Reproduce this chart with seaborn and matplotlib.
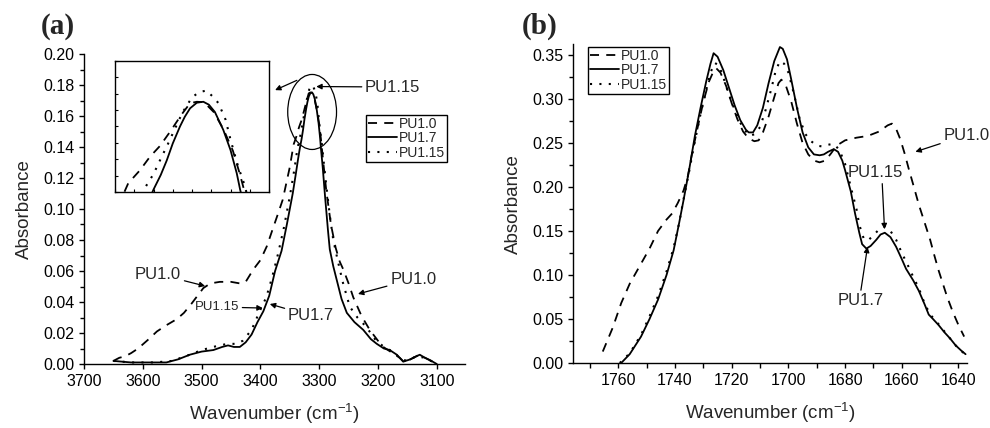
import matplotlib
matplotlib.use("Agg")
import numpy as np
import pandas as pd
import seaborn as sns
import matplotlib.pyplot as plt
from matplotlib.patches import Ellipse
from matplotlib.ticker import MultipleLocator, LinearLocator, NullFormatter

# ---------------- data : panel (a), N-H region ----------------
a_pu10_x = [3650, 3640, 3630, 3620, 3608, 3590, 3576, 3560, 3542, 3530, 3517, 3505, 3497, 3485,
            3469, 3450, 3435, 3425, 3412, 3400, 3389, 3380, 3370, 3362, 3350, 3343.5, 3338.6,
            3334.5, 3330.3, 3326, 3321.3, 3317.8, 3315, 3312, 3308, 3304, 3300, 3297, 3293,
            3288, 3280, 3272, 3265, 3259, 3250, 3242, 3228, 3214, 3200, 3191, 3175, 3163, 3155,
            3145, 3130, 3120, 3105]
a_pu10_y = [0.002, 0.004, 0.005, 0.007, 0.010, 0.016, 0.021, 0.025, 0.029, 0.033, 0.039, 0.045,
            0.049, 0.052, 0.053, 0.053, 0.052, 0.053, 0.061, 0.067, 0.076, 0.086, 0.097, 0.106,
            0.127, 0.1416, 0.147, 0.1525, 0.157, 0.163, 0.170, 0.1746, 0.1752, 0.175, 0.171,
            0.164, 0.155, 0.145, 0.130, 0.112, 0.090, 0.075, 0.066, 0.061, 0.052, 0.043, 0.031,
            0.022, 0.015, 0.011, 0.007, 0.004, 0.001, 0.003, 0.006, 0.004, 0.001]

a_pu17_x = [3650, 3620, 3590, 3560, 3540, 3520, 3500, 3480, 3465, 3455, 3445, 3435, 3425, 3415,
            3405, 3395, 3385, 3375, 3364, 3355, 3345, 3340, 3336, 3333, 3330, 3327.5, 3325, 3322,
            3320, 3317.8, 3315, 3312.3, 3310, 3307.5, 3304, 3301, 3298.4, 3297, 3294, 3290,
            3285, 3282, 3276, 3270, 3262, 3253, 3240, 3225, 3212, 3202, 3190, 3180, 3168, 3157,
            3145, 3129, 3120, 3112, 3100]
a_pu17_y = [0.002, 0.001, 0.001, 0.001, 0.003, 0.006, 0.008, 0.009, 0.011, 0.012, 0.011, 0.011,
            0.014, 0.019, 0.027, 0.034, 0.044, 0.060, 0.073, 0.090, 0.110, 0.122, 0.132, 0.139,
            0.145, 0.151, 0.158, 0.165, 0.169, 0.1725, 0.1748, 0.1752, 0.174, 0.171, 0.1636,
            0.1553, 0.1457, 0.139, 0.127, 0.108, 0.086, 0.074, 0.063, 0.054, 0.042, 0.033, 0.027,
            0.022, 0.016, 0.013, 0.010, 0.009, 0.006, 0.0015, 0.003, 0.006, 0.004, 0.0026, 0.0]

a_pu115_x = [3650, 3620, 3580, 3550, 3520, 3500, 3470, 3455, 3440, 3430, 3415, 3400, 3390, 3380,
             3370, 3360, 3350, 3342, 3337, 3333, 3330, 3327, 3321, 3317, 3314, 3311, 3308, 3306,
             3303, 3301.5, 3299.8, 3297.8, 3295.4, 3290, 3282, 3276, 3268, 3260, 3248, 3235,
             3220, 3205, 3190, 3175, 3160, 3150, 3135, 3120, 3100]
a_pu115_y = [0.002, 0.001, 0.001, 0.002, 0.006, 0.009, 0.012, 0.013, 0.013, 0.015, 0.022, 0.035,
             0.043, 0.056, 0.071, 0.088, 0.108, 0.126, 0.139, 0.1454, 0.1517, 0.1578, 0.1707,
             0.177, 0.1792, 0.1798, 0.177, 0.1746, 0.1677, 0.1615, 0.1553, 0.1484, 0.1416,
             0.122, 0.096, 0.080, 0.066, 0.053, 0.037, 0.030, 0.024, 0.016, 0.011, 0.008, 0.003,
             0.002, 0.005, 0.004, 0.0]

# ---------------- data : panel (b), C=O region ----------------
b_pu10_x = [1765.5, 1762, 1759, 1756, 1752.5, 1749, 1746, 1743, 1741, 1739, 1737, 1735.5, 1734,
            1732, 1730, 1728, 1726.5, 1725.5, 1724, 1722, 1720, 1718, 1716, 1714, 1712, 1710.5,
            1709, 1707, 1705, 1703.5, 1702.5, 1701, 1699, 1697, 1695, 1693, 1691, 1689, 1687,
            1685, 1683, 1680, 1676, 1672, 1668, 1665, 1663.5, 1662, 1660.5, 1659, 1657.5, 1656,
            1654, 1652, 1650, 1648.5, 1647, 1645.5, 1644, 1642, 1640, 1638]
b_pu10_y = [0.013, 0.040, 0.068, 0.090, 0.110, 0.130, 0.150, 0.163, 0.170, 0.182, 0.196, 0.212,
            0.238, 0.268, 0.297, 0.320, 0.331, 0.335, 0.330, 0.315, 0.295, 0.277, 0.263, 0.255,
            0.252, 0.253, 0.262, 0.280, 0.302, 0.318, 0.322, 0.316, 0.297, 0.272, 0.250, 0.237,
            0.230, 0.228, 0.230, 0.238, 0.247, 0.253, 0.256, 0.258, 0.263, 0.270, 0.272, 0.266,
            0.254, 0.238, 0.220, 0.203, 0.180, 0.160, 0.140, 0.122, 0.105, 0.090, 0.075, 0.058,
            0.043, 0.030]

b_pu17_x = [1759, 1756, 1752, 1749, 1746, 1743, 1740.5, 1738.5, 1737, 1735, 1733, 1731, 1729,
            1727.5, 1726.4, 1725, 1723, 1721, 1719, 1717, 1715, 1714, 1712.5, 1711, 1709, 1707,
            1705, 1703, 1702, 1700.5, 1699, 1697, 1695, 1693, 1691, 1689, 1687.5, 1686, 1684,
            1682.5, 1681, 1680, 1678, 1676.5, 1675, 1674, 1672.5, 1671, 1669, 1667.5, 1666, 1664,
            1662, 1660, 1658.5, 1656, 1654, 1652, 1650.5, 1649, 1647, 1645, 1643, 1641, 1639,
            1637.5]
b_pu17_y = [0.0, 0.010, 0.030, 0.050, 0.072, 0.100, 0.128, 0.160, 0.185, 0.220, 0.258, 0.290,
            0.320, 0.340, 0.352, 0.348, 0.333, 0.313, 0.293, 0.276, 0.265, 0.262, 0.262, 0.270,
            0.290, 0.318, 0.343, 0.359, 0.357, 0.345, 0.322, 0.290, 0.262, 0.245, 0.237, 0.236,
            0.237, 0.240, 0.243, 0.240, 0.230, 0.219, 0.195, 0.170, 0.148, 0.135, 0.130, 0.133,
            0.140, 0.146, 0.148, 0.143, 0.132, 0.118, 0.107, 0.094, 0.082, 0.067, 0.055, 0.050,
            0.043, 0.035, 0.028, 0.020, 0.014, 0.010]

b_pu115_x = [1759.5, 1756, 1752, 1749, 1746, 1743, 1740.5, 1738.5, 1737, 1735, 1733, 1731, 1729,
             1727.5, 1726, 1724.5, 1723, 1721, 1719, 1717, 1715, 1713.5, 1712, 1710, 1708, 1706,
             1704.5, 1703, 1701.5, 1700, 1698, 1696, 1694, 1692, 1690, 1688, 1686, 1684, 1682,
             1680, 1678, 1676, 1675, 1673.5, 1672, 1670, 1668, 1666, 1664, 1662, 1660, 1658,
             1656, 1654, 1652, 1650, 1648, 1645, 1642, 1640, 1638]
b_pu115_y = [0.0, 0.011, 0.032, 0.053, 0.076, 0.104, 0.131, 0.160, 0.186, 0.218, 0.252, 0.283,
             0.310, 0.330, 0.341, 0.338, 0.325, 0.305, 0.288, 0.273, 0.263, 0.258, 0.260, 0.268,
             0.288, 0.312, 0.332, 0.343, 0.340, 0.330, 0.305, 0.277, 0.260, 0.252, 0.247, 0.246,
             0.248, 0.249, 0.242, 0.226, 0.200, 0.175, 0.157, 0.142, 0.139, 0.145, 0.152, 0.155,
             0.150, 0.140, 0.125, 0.112, 0.098, 0.085, 0.068, 0.055, 0.048, 0.036, 0.024, 0.016,
             0.011]

labels = ["PU1.0", "PU1.7", "PU1.15"]

# ---------------- styling ----------------
sns.set_style("ticks")
plt.rcParams["font.family"] = ["Liberation Sans", "DejaVu Sans"]
plt.rcParams["mathtext.fontset"] = "custom"
plt.rcParams["mathtext.rm"] = "Liberation Sans"
plt.rcParams["axes.edgecolor"] = "black"
plt.rcParams["axes.linewidth"] = 1.0
for k in ("xtick", "ytick"):
    plt.rcParams[f"{k}.color"] = "black"
    plt.rcParams[f"{k}.direction"] = "out"
    plt.rcParams[f"{k}.major.size"] = 3.6
    plt.rcParams[f"{k}.minor.size"] = 2.6
    plt.rcParams[f"{k}.major.width"] = 1.0
    plt.rcParams[f"{k}.minor.width"] = 1.0
    plt.rcParams[f"{k}.labelsize"] = 11.5

styles = {
    "PU1.0": dict(linestyle=(0, (5, 4)), linewidth=1.3),
    "PU1.7": dict(linestyle="-", linewidth=1.3),
    "PU1.15": dict(linestyle=(0, (1, 3.5)), linewidth=1.5),
}


def frame(xs, ys, name):
    return pd.DataFrame({"w": xs, "a": ys, "s": name})


df_a = {"PU1.0": frame(a_pu10_x, a_pu10_y, "PU1.0"),
        "PU1.7": frame(a_pu17_x, a_pu17_y, "PU1.7"),
        "PU1.15": frame(a_pu115_x, a_pu115_y, "PU1.15")}
df_b = {"PU1.0": frame(b_pu10_x, b_pu10_y, "PU1.0"),
        "PU1.7": frame(b_pu17_x, b_pu17_y, "PU1.7"),
        "PU1.15": frame(b_pu115_x, b_pu115_y, "PU1.15")}


def draw(ax, dfs, legend=True):
    for name in labels:
        sns.lineplot(data=dfs[name], x="w", y="a", ax=ax, color="black", sort=False,
                     estimator=None, label=name if legend else None, **styles[name])


fig = plt.figure(figsize=(9.9, 4.28), dpi=100)
W, H = 990.0, 428.0

ax_a = fig.add_axes([84 / W, (H - 364) / H, (465 - 84) / W, (364 - 54) / H])
ax_b = fig.add_axes([573 / W, (H - 363) / H, (967 - 573) / W, (363 - 44.4) / H])

draw(ax_a, df_a)
draw(ax_b, df_b)

for ax in (ax_a, ax_b):
    sns.despine(ax=ax)
    ax.set_xlabel("Wavenumber (cm$^{\\mathregular{-1}}$)", fontsize=13.5, labelpad=9)
    ax.set_ylabel("Absorbance", fontsize=13.5, labelpad=7)

ax_a.set_xlim(3700, 3052)
ax_a.set_ylim(0, 0.2)
ax_a.xaxis.set_major_locator(MultipleLocator(100))
ax_a.yaxis.set_major_locator(MultipleLocator(0.02))
ax_a.yaxis.set_minor_locator(MultipleLocator(0.01))
ax_a.yaxis.set_major_formatter(matplotlib.ticker.FormatStrFormatter("%.2f"))

ax_b.set_xlim(1776, 1637)
ax_b.set_ylim(0, 0.362)
ax_b.xaxis.set_major_locator(MultipleLocator(20))
ax_b.xaxis.set_minor_locator(MultipleLocator(10))
ax_b.yaxis.set_major_locator(MultipleLocator(0.05))
ax_b.yaxis.set_minor_locator(MultipleLocator(0.025))
ax_b.yaxis.set_major_formatter(matplotlib.ticker.FormatStrFormatter("%.2f"))
ax_b.tick_params(axis="x", which="minor", length=3.6)

# legends
leg_kw = dict(fontsize=10, frameon=True, fancybox=False, shadow=False, borderpad=0.15,
              labelspacing=0.02, handlelength=2.1, handletextpad=0.1, borderaxespad=0.0)
la = ax_a.legend(loc="upper left", bbox_to_anchor=((366 - 84) / 381, (364 - 115) / 310), **leg_kw)
lb = ax_b.legend(loc="upper left", bbox_to_anchor=((588 - 573) / 394, (363 - 47) / 318.6), **leg_kw)
for lg in (la, lb):
    lg.get_frame().set_edgecolor("black")
    lg.get_frame().set_linewidth(1.0)
    lg.get_frame().set_alpha(1)

# inset
ax_in = fig.add_axes([115 / W, (H - 192) / H, 154 / W, 131 / H])
draw(ax_in, df_a, legend=False)
ax_in.set_xlim(3349, 3285)
ax_in.set_ylim(0.138, 0.192)
ax_in.set_xlabel("")
ax_in.set_ylabel("")
ax_in.xaxis.set_major_locator(LinearLocator(9))
ax_in.yaxis.set_major_locator(LinearLocator(9))
ax_in.xaxis.set_major_formatter(NullFormatter())
ax_in.yaxis.set_major_formatter(NullFormatter())
ax_in.tick_params(direction="in", length=2.5, width=0.8, top=False, right=False)
for sp in ax_in.spines.values():
    sp.set_visible(True)
    sp.set_linewidth(1.0)

# ellipse around the peak
ax_a.add_patch(Ellipse((3312, 0.1626), width=83, height=0.0484, fill=False,
                       edgecolor="black", linewidth=0.9))

arrow = dict(arrowstyle="-|>", color="black", lw=0.9, mutation_scale=8, shrinkA=0, shrinkB=0)
# arrow from ellipse to inset
ax_a.annotate("", xy=(3375, 0.1767), xytext=(3338, 0.183), arrowprops=arrow)

# panel (a) annotations
ax_a.annotate("PU1.15", xy=(3305, 0.179), xytext=(3222, 0.1787), fontsize=12,
              ha="left", va="center", arrowprops=arrow)
ax_a.annotate("PU1.0", xy=(3494, 0.0503), xytext=(3574, 0.058), fontsize=12,
              ha="center", va="center", arrowprops=arrow)
ax_a.annotate("PU1.15", xy=(3396, 0.0361), xytext=(3474, 0.0368), fontsize=9.5,
              ha="center", va="center", arrowprops=arrow)
ax_a.annotate("PU1.7", xy=(3384, 0.0387), xytext=(3314, 0.031), fontsize=12,
              ha="center", va="center", arrowprops=arrow)
ax_a.annotate("PU1.0", xy=(3234, 0.0452), xytext=(3140, 0.0548), fontsize=12,
              ha="center", va="center", arrowprops=arrow)

# panel (b) annotations
ax_b.annotate("PU1.0", xy=(1655.2, 0.240), xytext=(1645.3, 0.259), fontsize=12,
              ha="left", va="center", arrowprops=arrow, annotation_clip=False)
ax_b.annotate("PU1.15", xy=(1666.1, 0.152), xytext=(1669.3, 0.216), fontsize=12,
              ha="center", va="center", arrowprops=dict(arrow, relpos=(0.62, 0.0)))
ax_b.annotate("PU1.7", xy=(1672.1, 0.132), xytext=(1674.6, 0.0705), fontsize=12,
              ha="center", va="center", arrowprops=dict(arrow, relpos=(0.5, 1.0)))

# panel letters
fig.text(41 / W, (H - 34) / H, "(a)", fontsize=21, fontweight="bold",
         family=["Liberation Serif", "DejaVu Serif"], ha="left", va="baseline")
fig.text(522 / W, (H - 34) / H, "(b)", fontsize=21, fontweight="bold",
         family=["Liberation Serif", "DejaVu Serif"], ha="left", va="baseline")

fig.savefig("out.png", dpi=100, facecolor="white")
